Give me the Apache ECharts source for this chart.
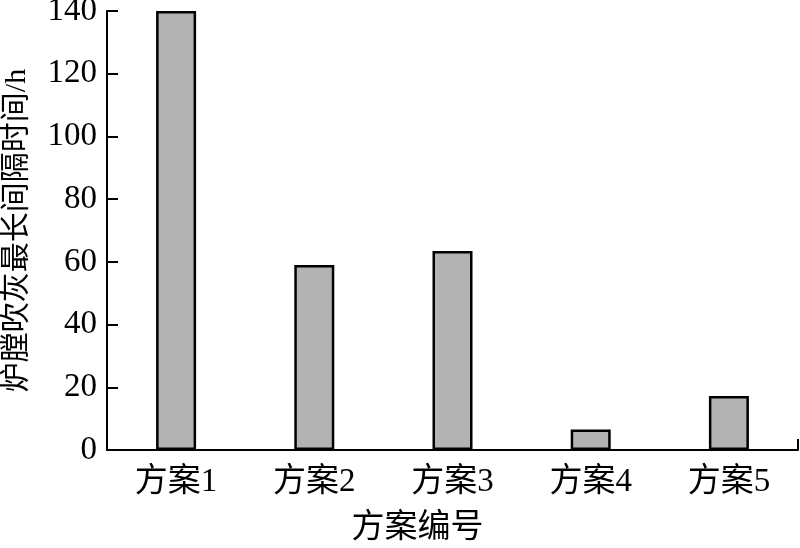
<!DOCTYPE html>
<html>
<head>
<meta charset="utf-8">
<script src="https://cdn.jsdelivr.net/npm/echarts@6/dist/echarts.min.js"></script>
<style>
  html, body { margin: 0; padding: 0; background: #fff; }
  #chart { width: 800px; height: 548px; }
</style>
</head>
<body>
<div id="chart"></div>
<script>
// 方案编号 / 炉膛吹灰最长间隔时间
const categories = ['方案1', '方案2', '方案3', '方案4', '方案5'];
const intervalHours = [140, 59, 63.5, 6.5, 17.2];

const fontFamily = "'Liberation Serif', 'Noto Sans CJK SC', serif";

const chart = echarts.init(document.getElementById('chart'));

const option = {
  animation: false,
  grid: {
    left: 107,
    right: 2,
    top: 11,
    bottom: 98,
    containLabel: false,
    outerBoundsMode: 'none'
  },
  xAxis: [
    {
      type: 'category',
      data: categories,
      name: '方案编号',
      nameLocation: 'middle',
      nameGap: 62,
      nameTextStyle: {
        fontSize: 33,
        color: '#000',
        fontFamily: fontFamily,
        padding: [0, 70, 0, 0]
      },
      axisLine: { lineStyle: { color: '#000', width: 2 } },
      axisTick: { show: false },
      axisLabel: {
        fontSize: 33,
        color: '#000',
        fontFamily: fontFamily,
        margin: 16
      }
    },
    {
      // only to draw the small tick at the right end of the x axis
      type: 'value',
      position: 'bottom',
      min: 0,
      max: 1,
      interval: 1,
      axisLine: { show: false },
      axisLabel: { show: false },
      splitLine: { show: false },
      axisTick: {
        show: true,
        inside: true,
        length: 11,
        lineStyle: { color: '#000', width: 2 }
      }
    }
  ],
  yAxis: {
    type: 'value',
    min: 0,
    max: 140,
    interval: 20,
    name: '炉膛吹灰最长间隔时间/h',
    nameLocation: 'middle',
    nameGap: 75,
    nameTextStyle: {
      fontSize: 30,
      color: '#000',
      fontFamily: fontFamily
    },
    axisLine: { show: true, lineStyle: { color: '#000', width: 2 } },
    axisTick: {
      show: true,
      inside: true,
      length: 11,
      lineStyle: { color: '#000', width: 2 }
    },
    splitLine: { show: false },
    axisLabel: {
      fontSize: 33,
      color: '#000',
      fontFamily: fontFamily,
      margin: 10
    }
  },
  series: [
    {
      type: 'bar',
      xAxisIndex: 0,
      data: intervalHours,
      barWidth: 40,
      itemStyle: {
        color: '#b3b3b3',
        borderColor: '#000',
        borderWidth: 2.5
      }
    }
  ]
};

chart.setOption(option);
</script>
</body>
</html>
